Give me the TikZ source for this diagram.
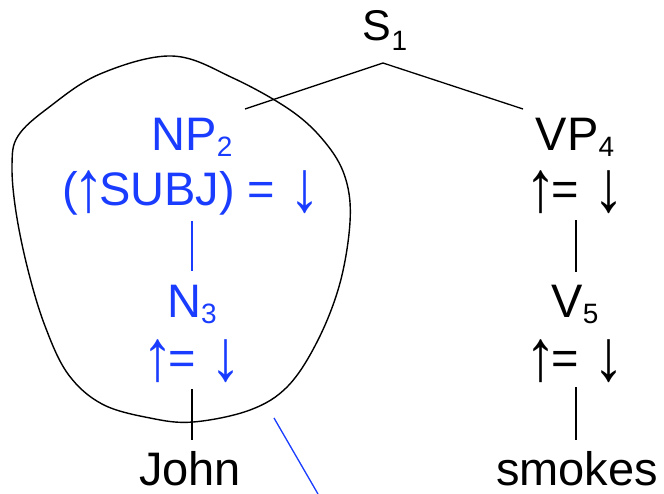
\documentclass[tikz,border=0pt]{standalone}
\usepackage{graphicx}
\usepackage{fontspec}
\setmainfont{Liberation Sans}
\usetikzlibrary{calc}
\definecolor{lfgblue}{RGB}{25,60,255}
\newcommand\lfgsub[1]{\raisebox{-6pt}{\fontsize{28}{30}\selectfont #1}}
\newcommand\lfgarr[1]{\raisebox{-9pt}{\resizebox*{31pt}{43pt}{\raisebox{\depth}{#1}}}}
\newcommand\lfgup{\kern-5pt\lfgarr{↑}\kern-5pt}
\newcommand\lfgdown{\kern1pt\lfgarr{↓}\kern-5pt}
\begin{document}
\begin{tikzpicture}[x=1pt,y=-1pt,
  lab/.style={inner sep=0pt,anchor=base,font=\fontsize{47}{52}\selectfont},
  blab/.style={lab,text=lfgblue},
  edge/.style={line width=1.3pt,black},
  bedge/.style={line width=1.3pt,lfgblue},
  blob/.style={line width=1.4pt,black}]
\useasboundingbox (0,0) rectangle (664,493);
% nodes
\node[lab,font=\fontsize{43}{48}\selectfont] (s) at (385,40) {S\raisebox{-10pt}{\fontsize{28}{30}\selectfont 1}};
\node[blab] (np) at (192,150) {NP\lfgsub{2}};
\node[blab] (npeq) at (189,205) {(\lfgup SUBJ) = \lfgdown};
\node[blab] (n) at (192,317) {N\lfgsub{3}};
\node[blab] (neq) at (192,374) {\lfgup= \lfgdown};
\node[lab] (john) at (190,485) {John};
\node[lab] (vp) at (575,150) {VP\lfgsub{4}};
\node[lab] (vpeq) at (575,205) {\lfgup= \lfgdown};
\node[lab] (v) at (575,317) {V\lfgsub{5}};
\node[lab] (veq) at (575,374) {\lfgup= \lfgdown};
\node[lab] (smokes) at (577,485) {smokes};
\coordinate (bend) at (318,494);
% connectors
\draw[edge] ($(s.base)+(-2,23)$) -- ($(np.base)+(53,-41)$);
\draw[edge] ($(s.base)+(-2,23)$) -- ($(vp.base)+(-52,-41)$);
\draw[bedge] ($(npeq.base)+(3,16)$) -- ($(n.base)+(0,-46)$);
\draw[edge] ($(neq.base)+(0,15)$) -- ($(john.base)+(2,-45)$);
\draw[edge] ($(vpeq.base)+(1,15)$) -- ($(v.base)+(1,-45)$);
\draw[edge] ($(veq.base)+(1,13)$) -- ($(smokes.base)+(-1,-45)$);
\draw[bedge] ($(john.base)+(84,-67)$) -- (bend);
% blob
\draw[blob] plot[smooth cycle, tension=0.6] coordinates {
  (172,56) (100,74) (48,108) (18,136) (12,165) (16,212) (28,270)
  (45,326) (68,374) (102,404) (150,418) (193,422) (250,410) (288,386)
  (318,340) (340,283) (350,222) (346,180) (328,146) (293,112) (233,78)};
\end{tikzpicture}
\end{document}
